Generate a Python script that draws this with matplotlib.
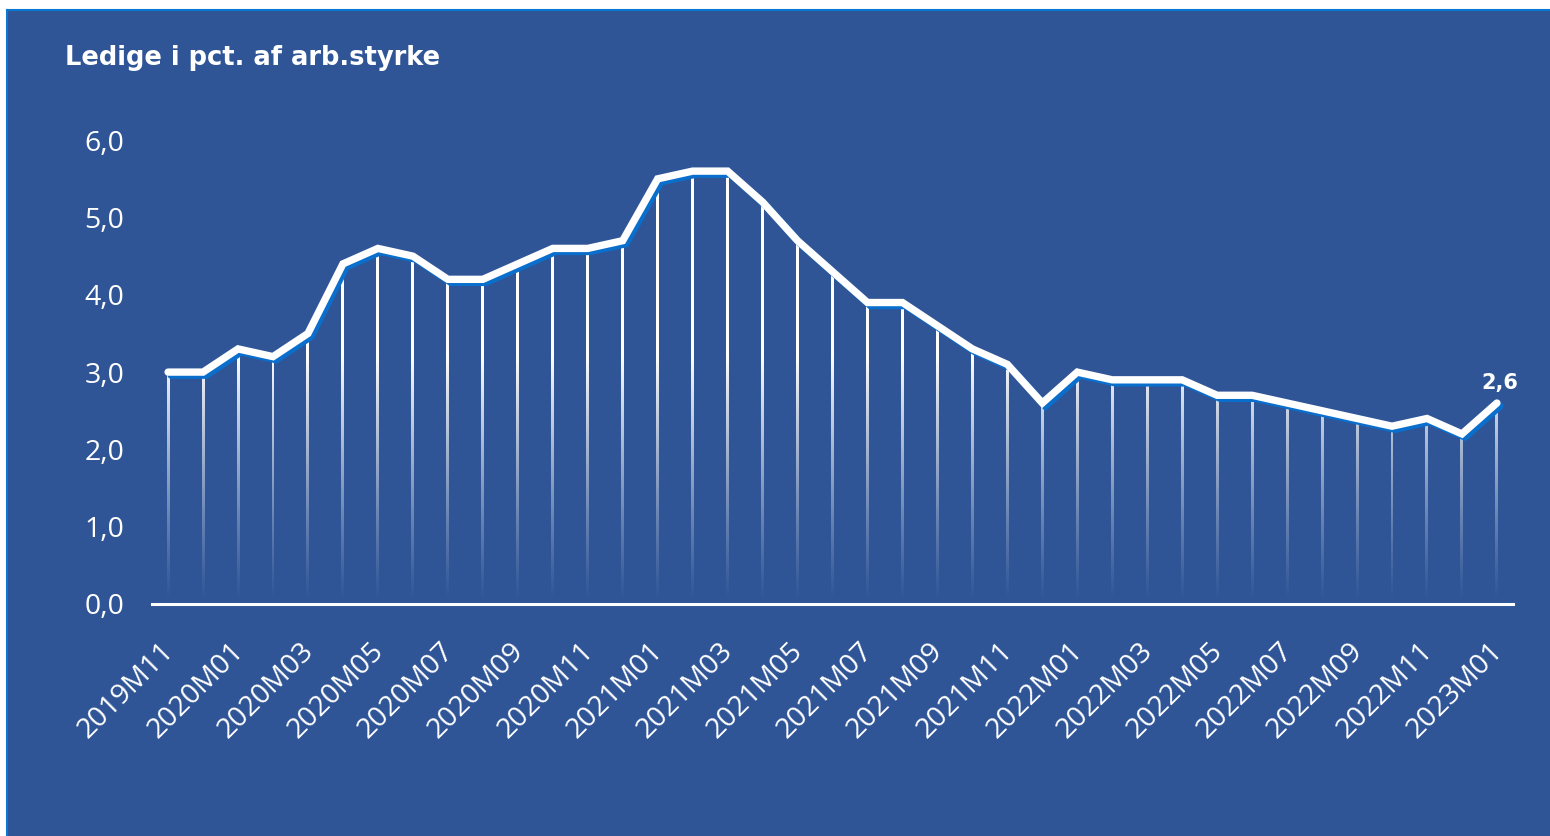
import numpy as np
import matplotlib.pyplot as plt
import matplotlib.patheffects as pe
import matplotlib.transforms as mtransforms
from matplotlib.patches import Rectangle, PathPatch
from matplotlib.path import Path

# ledighed, maanedlig 2019M11 - 2023M01
months = [
    "2019M11", "2019M12", "2020M01", "2020M02", "2020M03", "2020M04", "2020M05",
    "2020M06", "2020M07", "2020M08", "2020M09", "2020M10", "2020M11", "2020M12",
    "2021M01", "2021M02", "2021M03", "2021M04", "2021M05", "2021M06", "2021M07",
    "2021M08", "2021M09", "2021M10", "2021M11", "2021M12", "2022M01", "2022M02",
    "2022M03", "2022M04", "2022M05", "2022M06", "2022M07", "2022M08", "2022M09",
    "2022M10", "2022M11", "2022M12", "2023M01",
]
ledige = [
    3.0, 3.0, 3.3, 3.2, 3.5, 4.4, 4.6,
    4.5, 4.2, 4.2, 4.4, 4.6, 4.6, 4.7,
    5.5, 5.6, 5.6, 5.2, 4.7, 4.3, 3.9,
    3.9, 3.6, 3.3, 3.1, 2.6, 3.0, 2.9,
    2.9, 2.9, 2.7, 2.7, 2.6, 2.5, 2.4,
    2.3, 2.4, 2.2, 2.6,
]
yticks = [0, 1, 2, 3, 4, 5, 6]

BG = "#2F5597"
EDGE = "#0A78D2"
SHADOW = "#0A6FCC"

W, H = 1550, 836
fig = plt.figure(figsize=(W / 100, H / 100), dpi=100, facecolor="white")

# blaa baggrund med tynd kant
bg = Rectangle((7 / W, 0), 1, 1 - 10 / H, transform=fig.transFigure,
               facecolor=BG, edgecolor="none", zorder=-10)
fig.add_artist(bg)
fig.add_artist(plt.Line2D([7 / W, 7 / W], [0, 1 - 10 / H], color=EDGE, lw=1.5,
                          transform=fig.transFigure, zorder=-9))
fig.add_artist(plt.Line2D([7 / W, 1], [1 - 10 / H, 1 - 10 / H], color=EDGE, lw=1.5,
                          transform=fig.transFigure, zorder=-9))

left, right = 152 / W, 1513 / W
bottom, top = 1 - 604 / H, 1 - 117 / H
ax = fig.add_axes([left, bottom, right - left, top - bottom])
ax.set_facecolor("none")
ax.set_zorder(1)

x = np.arange(len(ledige))
y = np.array(ledige)
xmin, xmax = -0.46, len(ledige) - 1 + 0.46
ymax = 6.3
ax.set_xlim(xmin, xmax)
ax.set_ylim(0, ymax)

# lodrette linjer med gradient (hvid -> gennemsigtig mod bunden)
w = 0.085
verts, codes = [], []
for xi, yi in zip(x, y):
    verts += [(xi - w / 2, 0), (xi + w / 2, 0), (xi + w / 2, yi), (xi - w / 2, yi),
              (xi - w / 2, 0)]
    codes += [Path.MOVETO, Path.LINETO, Path.LINETO, Path.LINETO, Path.CLOSEPOLY]
clip = PathPatch(Path(verts, codes), transform=ax.transData, facecolor="none",
                 edgecolor="none")
ax.add_patch(clip)
lev = np.linspace(ymax, 0, 400)
grad = np.ones((400, 1, 4))
grad[:, 0, 3] = np.clip(lev / 3.2, 0, 1) ** 1.2
im = ax.imshow(grad, extent=(xmin, xmax, 0, ymax), aspect="auto",
               interpolation="bilinear", zorder=2)
im.set_clip_path(clip)

# hovedlinje med blaa skygge
ax.plot(x, y, color="white", lw=5.3, solid_capstyle="round", solid_joinstyle="miter",
        zorder=4,
        path_effects=[pe.SimpleLineShadow(offset=(2.2, -2.2), shadow_color=SHADOW,
                                          alpha=1.0),
                      pe.Normal()])

ax.annotate("2,6", (x[-1], y[-1]), xytext=(2, 7), textcoords="offset points",
            ha="center", va="bottom", color="white", fontsize=15, fontweight="bold",
            family="DejaVu Sans", zorder=5)

for s in ["top", "right", "left"]:
    ax.spines[s].set_visible(False)
ax.spines["bottom"].set_color("white")
ax.spines["bottom"].set_linewidth(2.2)
ax.spines["bottom"].set_zorder(5)

ax.set_yticks(yticks)
ax.set_yticklabels([f"{v:.1f}".replace(".", ",") for v in yticks])
ax.set_xticks(x[::2])
ax.set_xticklabels(months[::2], rotation=45, ha="right", va="top",
                   rotation_mode="anchor")
ax.tick_params(axis="both", length=0, colors="white", labelsize=20.5)
ax.tick_params(axis="y", pad=20)
ax.tick_params(axis="x", pad=24)
shift = mtransforms.ScaledTranslation(-6 / 72, 0, fig.dpi_scale_trans)
for lab in ax.get_xticklabels():
    lab.set_transform(lab.get_transform() + shift)
for lab in ax.get_xticklabels() + ax.get_yticklabels():
    lab.set_family("Open Sans")

fig.text(65 / W, 1 - 58 / H, "Ledige i pct. af arb.styrke", color="white",
         fontsize=18.5, fontweight="bold", family="DejaVu Sans",
         ha="left", va="center")

fig.savefig("out.png", dpi=100, facecolor="white")
